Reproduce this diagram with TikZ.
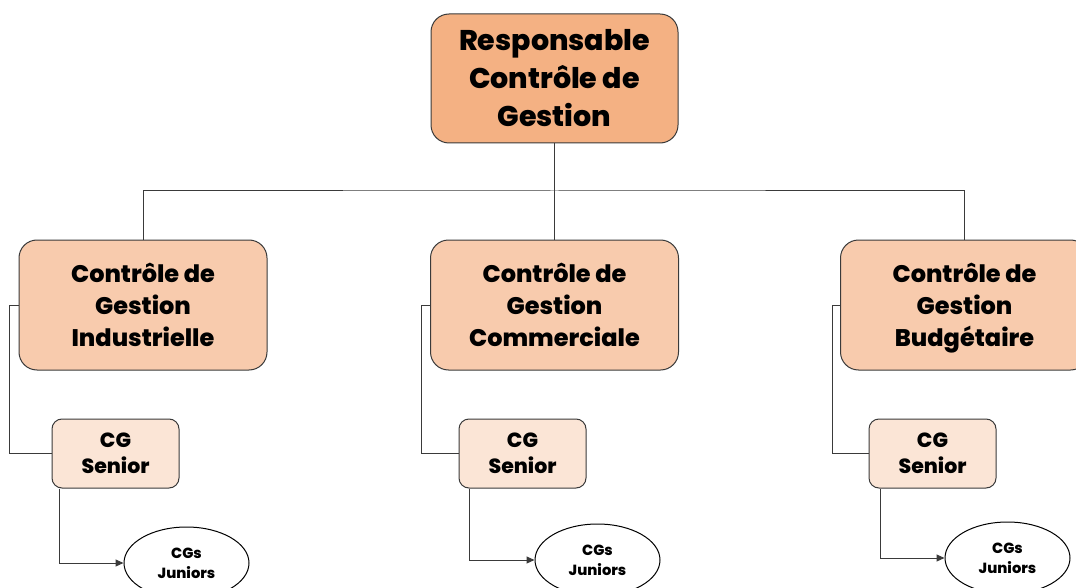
\documentclass[tikz,border=0pt]{standalone}
\usepackage{fontspec}
\setmainfont{Poppins}[BoldFont={Poppins ExtraBold}]
\usetikzlibrary{arrows.meta,shapes.geometric}
\definecolor{headfill}{HTML}{F4B183}
\definecolor{unitfill}{HTML}{F8CBAD}
\definecolor{seniorfill}{HTML}{FBE5D6}
\definecolor{edge}{HTML}{3A3A3A}
\tikzset{
  headbox/.style={draw=edge, line width=1pt, fill=headfill, rounded corners=18pt,
    minimum width=247pt, minimum height=129pt, align=center,
    font=\fontsize{28.5}{38}\selectfont\bfseries},
  unitbox/.style={draw=edge, line width=1pt, fill=unitfill, rounded corners=18pt,
    minimum width=248pt, minimum height=130pt, align=center,
    font=\fontsize{24}{32}\selectfont\bfseries},
  seniorbox/.style={draw=edge, line width=1pt, fill=seniorfill, rounded corners=10pt,
    minimum width=127pt, minimum height=69pt, align=center,
    font=\fontsize{20.5}{26}\selectfont\bfseries},
  juniorbox/.style={draw=black, line width=1pt, fill=white, ellipse,
    minimum width=125pt, minimum height=72pt, inner sep=0pt, align=center,
    font=\fontsize{14.7}{20}\selectfont\bfseries},
  link/.style={draw=edge, line width=1pt},
  arrowlink/.style={link, -{Triangle[length=8pt,width=7pt]}}
}
\begin{document}
\begin{tikzpicture}[x=1pt, y=-1pt]
\useasboundingbox (0,0) rectangle (1076,588);
\clip (0,0) rectangle (1076,588);

% head of the department
\node[headbox] (head) at (554.5,78.5) {Responsable\\Contrôle de\\Gestion};

% three controlling units
\node[unitbox] (u1) at (143,305) {Contrôle de\\Gestion\\Industrielle};
\node[unitbox] (u2) at (554.5,305) {Contrôle de\\Gestion\\Commerciale};
\node[unitbox] (u3) at (964.5,305) {Contrôle de\\Gestion\\Bud\smash{g}étaire};

% senior controllers
\node[seniorbox] (s1) at (115.5,453.5) {CG\\Senior};
\node[seniorbox] (s2) at (522.5,453.5) {CG\\Senior};
\node[seniorbox] (s3) at (932.5,453.5) {CG\\Senior};

% junior controllers
\node[juniorbox] (j1) at (186.5,563) {CGs\\Juniors};
\node[juniorbox] (j2) at (597.5,560) {CGs\\Juniors};
\node[juniorbox] (j3) at (1007.5,558) {CGs\\Juniors};

% bus from the head to the units
\coordinate (bus) at (554.5,191);
\draw[link] (head.south) -- (bus);
\draw[link] (u1.north) |- (bus) -| (u3.north);
\draw[link] (bus) -- (u2.north);

% units to senior controllers
\draw[link] (u1.west) -- ++(-9,0) |- (s1.west);
\draw[link] (u2.west) -- ++(-9,0) |- (s2.west);
\draw[link] (u3.west) -- ++(-8,0) |- (s3.west);

% senior to junior controllers
\draw[arrowlink] ([xshift=8pt]s1.south west) |- (j1.west);
\draw[arrowlink] ([xshift=11pt]s2.south west) |- (j2.west);
\draw[arrowlink] ([xshift=12pt]s3.south west) |- (j3.west);
\end{tikzpicture}
\end{document}
